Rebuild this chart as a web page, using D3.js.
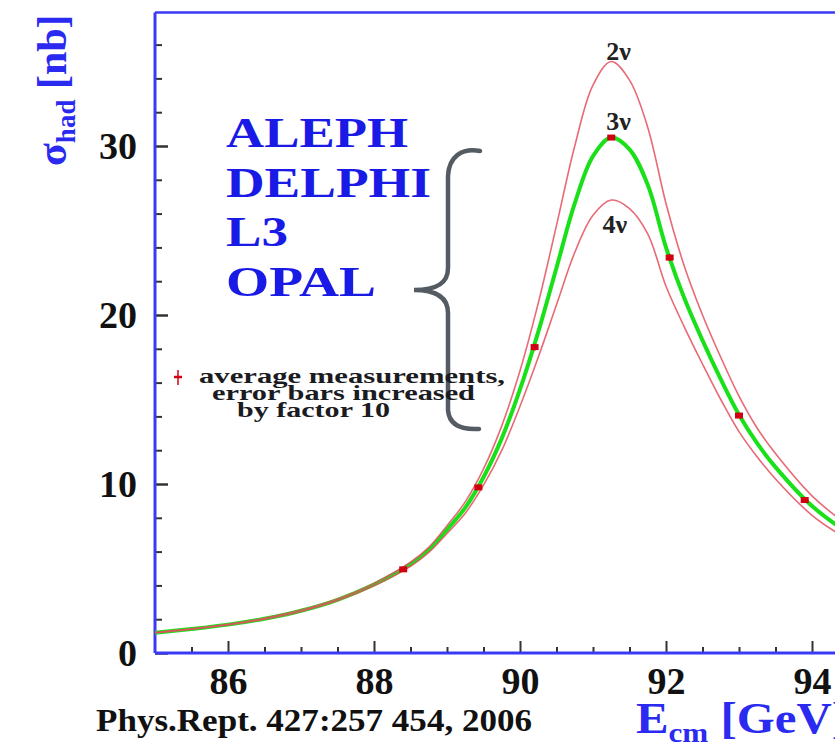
<!DOCTYPE html>
<html>
<head>
<meta charset="utf-8">
<script src="https://cdn.jsdelivr.net/npm/d3@7"></script>
<style>
  body { margin: 0; background: #fff; }
  svg { display: block; font-family: "Liberation Serif", "DejaVu Serif", serif; }
</style>
</head>
<body>
<svg id="chart" width="835" height="745"></svg>
<script>
const energies = [85, 85.5, 86, 86.5, 87, 87.5, 88, 88.5, 88.75, 89, 89.25, 89.5, 89.75, 90, 90.25, 90.5, 90.75,
    91, 91.25, 91.5, 91.75, 92, 92.25, 92.5, 92.75, 93, 93.25, 93.5, 94, 94.5, 95, 95.5, 96];
// hadronic cross section (nb) for 3, 2 and 4 neutrino families
const sigma3nu = [1.2, 1.42, 1.68, 2.03, 2.5, 3.15, 4.05, 5.25, 6.1, 7.3, 8.6, 10.4, 12.7, 15.6, 19.0, 22.8, 26.6,
    29.4, 30.5, 29.8, 27.7, 24.0, 21.0, 18.5, 16.2, 14.1, 12.4, 11.0, 8.7, 7.1, 5.9, 5.0, 4.3];
const sigma2nu = [1.21, 1.43, 1.7, 2.06, 2.54, 3.2, 4.12, 5.37, 6.25, 7.53, 8.94, 10.89, 13.44, 16.7, 20.7, 25.3, 30.0,
    33.6, 35.0, 33.9, 31.1, 26.6, 22.9, 20.0, 17.5, 15.2, 13.3, 11.8, 9.3, 7.55, 6.25, 5.3, 4.55];
const sigma4nu = [1.19, 1.41, 1.66, 2.0, 2.46, 3.1, 3.98, 5.13, 5.95, 7.07, 8.27, 9.93, 11.99, 14.6, 17.5, 20.6, 23.7,
    25.9, 26.8, 26.3, 24.8, 21.7, 19.3, 17.1, 15.0, 13.1, 11.6, 10.3, 8.15, 6.7, 5.6, 4.75, 4.1];

// averaged LEP measurements
const measE = [88.4, 89.43, 90.2, 91.25, 92.05, 93.0, 93.9];
const measSigma = [4.95, 9.8, 18.1, 30.5, 23.4, 14.05, 9.05];
const measErr = [0.1, 0.15, 0.2, 0.15, 0.2, 0.15, 0.1];

const xMajorTicks = [86, 88, 90, 92, 94, 96];
const xMinorTicks = d3.range(85.5, 96, 0.5);
const yMajorTicks = [0, 10, 20, 30];
const yMinorTicks = d3.range(2, 38, 2);

const experiments = ["ALEPH", "DELPHI", "L3", "OPAL"];
const legendLines = ["average measurements,", "error bars increased", "by factor 10"];
const nuLabels = ["2\u03bd", "3\u03bd", "4\u03bd"];

const svg = d3.select("#chart");

// 73 px per GeV, 16.9 px per nb
const x = d3.scaleLinear().domain([85, 96]).range([155, 155 + 11 * 73]);
const y = d3.scaleLinear().domain([0, 37.9]).range([653, 653 - 37.9 * 16.9]);

const blue = "#3a3af5";

// top frame line
svg.append("line").attr("x1", x(85)).attr("x2", 835).attr("y1", y(37.9)).attr("y2", y(37.9))
    .attr("stroke", blue).attr("stroke-width", 2.5);

// minor ticks
svg.append("g").attr("transform", `translate(0,${y(0)})`)
    .call(d3.axisBottom(x).tickValues(xMinorTicks.filter(v => !xMajorTicks.includes(v))).tickSize(-6).tickFormat(""))
    .call(g => g.select(".domain").remove())
    .call(g => g.selectAll(".tick line").attr("stroke", "#333").attr("stroke-width", 2));
svg.append("g").attr("transform", `translate(${x(85)},0)`)
    .call(d3.axisLeft(y).tickValues(yMinorTicks.filter(v => !yMajorTicks.includes(v))).tickSize(-7).tickFormat(""))
    .call(g => g.select(".domain").remove())
    .call(g => g.selectAll(".tick line").attr("stroke", "#333").attr("stroke-width", 2));

// major ticks + labels
const xAxis = svg.append("g").attr("transform", `translate(0,${y(0)})`)
    .call(d3.axisBottom(x).tickValues(xMajorTicks).tickSize(-12).tickPadding(14).tickFormat(d3.format("d")));
xAxis.select(".domain").remove();
xAxis.selectAll(".tick line").attr("stroke", "#333").attr("stroke-width", 2);
xAxis.selectAll(".tick text").attr("fill", "#111").attr("font-size", 38).attr("font-weight", "bold")
    .attr("font-family", "Liberation Serif").attr("dy", "0.72em");

const yAxis = svg.append("g").attr("transform", `translate(${x(85)},0)`)
    .call(d3.axisLeft(y).tickValues(yMajorTicks).tickSize(-13).tickPadding(18).tickFormat(d3.format("d")));
yAxis.select(".domain").remove();
yAxis.selectAll(".tick line").attr("stroke", "#333").attr("stroke-width", 2.5);
yAxis.selectAll(".tick text").attr("fill", "#111").attr("font-size", 38).attr("font-weight", "bold")
    .attr("font-family", "Liberation Serif").attr("dy", "0.34em");

// left and bottom axis lines
svg.append("line").attr("x1", x(85)).attr("x2", x(85)).attr("y1", y(37.9)).attr("y2", y(0))
    .attr("stroke", blue).attr("stroke-width", 3);
svg.append("line").attr("x1", x(85)).attr("x2", 835).attr("y1", y(0)).attr("y2", y(0))
    .attr("stroke", blue).attr("stroke-width", 3);

// curves
const line = d3.line().x(d => x(d[0])).y(d => y(d[1])).curve(d3.curveCatmullRom);
const pairs = s => energies.map((e, i) => [e, s[i]]);

svg.append("path").attr("d", line(pairs(sigma3nu))).attr("fill", "none")
    .attr("stroke", "#19e019").attr("stroke-width", 4);
[sigma2nu, sigma4nu].forEach(s => {
    svg.append("path").attr("d", line(pairs(s))).attr("fill", "none")
        .attr("stroke", "#e3505e").attr("stroke-width", 1.6).attr("stroke-opacity", 0.85);
});

// curve labels, placed at the peaks
const labelPos = [[91.35, d3.max(sigma2nu), -2], [91.35, d3.max(sigma3nu), -8], [91.3, d3.max(sigma4nu), 33]];
nuLabels.forEach((t, i) => {
    svg.append("text").attr("x", x(labelPos[i][0])).attr("y", y(labelPos[i][1]) + labelPos[i][2])
        .attr("text-anchor", "middle").attr("font-size", 26).attr("font-weight", "bold")
        .attr("fill", "#222").text(t);
});

// measurements
const meas = svg.append("g");
measE.forEach((e, i) => {
    meas.append("line").attr("x1", x(e)).attr("x2", x(e))
        .attr("y1", y(measSigma[i] + measErr[i])).attr("y2", y(measSigma[i] - measErr[i]))
        .attr("stroke", "#d00010").attr("stroke-width", 2);
    meas.append("rect").attr("x", x(e) - 4).attr("y", y(measSigma[i]) - 3).attr("width", 8).attr("height", 6)
        .attr("fill", "#d00010");
});

// experiment names
const expLen = [182, 205, 62, 150];
experiments.forEach((name, i) => {
    svg.append("text").attr("x", 226).attr("y", 147 + i * 49.5)
        .attr("font-size", 42).attr("font-weight", "bold").attr("fill", "#1a1ae6")
        .attr("textLength", expLen[i]).attr("lengthAdjust", "spacingAndGlyphs").text(name);
});

// brace
svg.append("path")
    .attr("d", "M480,151 C462,148 449,156 448,176 L448,268 C448,284 436,290 414,290 C436,290 448,297 448,313 L448,410 C449,424 460,430 479,429")
    .attr("fill", "none").attr("stroke", "#555b62").attr("stroke-width", 4.5).attr("stroke-linecap", "round");

// legend
svg.append("line").attr("x1", 178).attr("x2", 178).attr("y1", 370).attr("y2", 385)
    .attr("stroke", "#d00010").attr("stroke-width", 1.5);
svg.append("line").attr("x1", 174).attr("x2", 182).attr("y1", 377).attr("y2", 377)
    .attr("stroke", "#d00010").attr("stroke-width", 2.5);
const legX = [199, 212, 237], legLen = [306, 263, 153], legY = [383, 400, 417];
legendLines.forEach((t, i) => {
    svg.append("text").attr("x", legX[i]).attr("y", legY[i]).attr("font-size", 21).attr("font-weight", "bold")
        .attr("fill", "#1b1b22").attr("textLength", legLen[i]).attr("lengthAdjust", "spacingAndGlyphs").text(t);
});

// axis titles
const yTitle = svg.append("text").attr("transform", "translate(66,166) rotate(-90)")
    .attr("font-size", 42).attr("font-weight", "bold").attr("fill", "#2a2af0");
yTitle.append("tspan").text("\u03c3");
yTitle.append("tspan").attr("font-size", 27).attr("dy", 9).text("had");
yTitle.append("tspan").attr("dy", -9).text(" [nb]");

const xTitle = svg.append("text").attr("x", 636).attr("y", 733)
    .attr("font-size", 44).attr("font-weight", "bold").attr("fill", "#2a2af0")
    .attr("textLength", 212).attr("lengthAdjust", "spacingAndGlyphs");
xTitle.append("tspan").text("E");
xTitle.append("tspan").attr("font-size", 28).attr("dy", 9).text("cm");
xTitle.append("tspan").attr("dy", -9).text(" [GeV]");

svg.append("text").attr("x", 96).attr("y", 731).attr("font-size", 32).attr("font-weight", "bold")
    .attr("fill", "#111").attr("textLength", 436).attr("lengthAdjust", "spacingAndGlyphs")
    .text("Phys.Rept. 427:257 454, 2006");
</script>
</body>
</html>
